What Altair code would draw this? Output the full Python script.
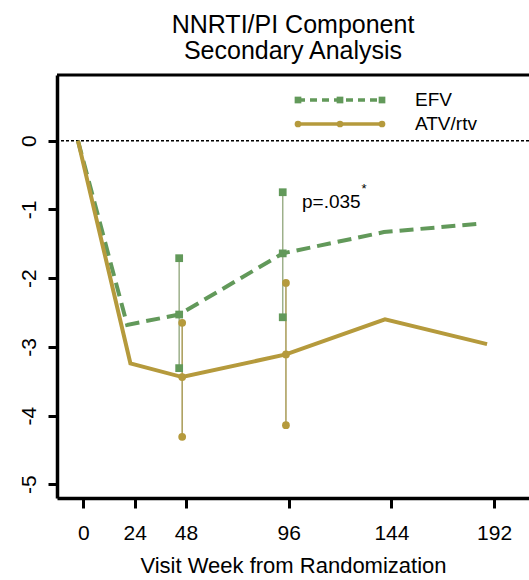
import altair as alt
import pandas as pd

# ---- data ----
series_names = ["EFV", "ATV/rtv"]

efv_week = [-2.5, 20.5, 44.8, 93.2, 140.5, 184.5]
efv_mean = [0.0, -2.68, -2.53, -1.64, -1.33, -1.21]
atv_week = [-2.5, 22.0, 46.2, 94.7, 141.0, 188.7]
atv_mean = [0.0, -3.24, -3.44, -3.11, -2.60, -2.96]

efv_ci_week = [44.8, 93.2]
efv_lo = [-3.31, -2.57]
efv_hi = [-1.71, -0.75]
atv_ci_week = [46.2, 94.7]
atv_lo = [-4.31, -4.14]
atv_hi = [-2.65, -2.07]

x_ticks = [0, 24, 48, 96, 144, 192]
y_ticks = [0, -1, -2, -3, -4, -5]

title_lines = ["NNRTI/PI Component", "Secondary Analysis"]
x_title = "Visit Week from Randomization"
p_text = "p=.035"

FONT = "Liberation Sans"
GREEN = "#62995a"
GOLD = "#b59a3c"
ERR_GREEN = "#9db08a"
ERR_GOLD = "#a89a55"

W, H = 472, 423

x_scale = alt.Scale(domain=[-12.3, 208.3], nice=False, zero=False)
y_scale = alt.Scale(domain=[-5.2, 0.956], nice=False, zero=False)

x_axis = alt.Axis(values=x_ticks, title=x_title, grid=False, tickSize=10, tickWidth=3,
                  domainWidth=3.5, domainColor="black", tickColor="black",
                  labelFont=FONT, labelFontSize=21, labelColor="black", labelPadding=14,
                  titleFont=FONT, titleFontSize=22, titleFontWeight="normal",
                  titleColor="black", titlePadding=12, labelFlush=False)
y_axis = alt.Axis(values=y_ticks, title=None, grid=False, tickSize=9, tickWidth=3,
                  domainWidth=3.5, domainColor="black", tickColor="black",
                  labelFont=FONT, labelFontSize=21, labelColor="black", labelPadding=13,
                  labelAngle=270, labelAlign="center", labelBaseline="alphabetic",
                  labelExpr="'' + datum.value", labelFlush=False)


def X(field="week"):
    return alt.X(f"{field}:Q", scale=x_scale, axis=x_axis)


def Y(field="value"):
    return alt.Y(f"{field}:Q", scale=y_scale, axis=y_axis)


efv_df = pd.DataFrame({"week": efv_week, "value": efv_mean})
atv_df = pd.DataFrame({"week": atv_week, "value": atv_mean})
efv_ci = pd.DataFrame({"week": efv_ci_week, "value": efv_lo, "hi": efv_hi})
atv_ci = pd.DataFrame({"week": atv_ci_week, "value": atv_lo, "hi": atv_hi})
efv_mid = efv_df[efv_df["week"].isin(efv_ci_week)]
atv_mid = atv_df[atv_df["week"].isin(atv_ci_week)]

zero = alt.Chart(pd.DataFrame({"week": [0], "value": [0]})).mark_rule(
    color="black", strokeDash=[3, 2], strokeWidth=1.5
).encode(y=Y())

efv_err = alt.Chart(efv_ci).mark_rule(color=ERR_GREEN, strokeWidth=1.5).encode(
    x=X(), y=Y(), y2="hi:Q")
atv_err = alt.Chart(atv_ci).mark_rule(color=ERR_GOLD, strokeWidth=1.5).encode(
    x=X(), y=Y(), y2="hi:Q")

efv_line = alt.Chart(efv_df).mark_line(color=GREEN, strokeWidth=4, strokeDash=[14, 7]).encode(
    x=X(), y=Y())
atv_line = alt.Chart(atv_df).mark_line(color=GOLD, strokeWidth=4).encode(x=X(), y=Y())

sq = dict(shape="square", filled=True, size=60, opacity=1)
ci_ = dict(shape="circle", filled=True, size=60, opacity=1)

efv_pts = alt.layer(
    alt.Chart(efv_ci).mark_point(color=GREEN, **sq).encode(x=X(), y=Y()),
    alt.Chart(efv_ci).mark_point(color=GREEN, **sq).encode(x=X(), y=Y("hi")),
    alt.Chart(efv_mid).mark_point(color=GREEN, **sq).encode(x=X(), y=Y()),
)
atv_pts = alt.layer(
    alt.Chart(atv_ci).mark_point(color=GOLD, **ci_).encode(x=X(), y=Y()),
    alt.Chart(atv_ci).mark_point(color=GOLD, **ci_).encode(x=X(), y=Y("hi")),
    alt.Chart(atv_mid).mark_point(color=GOLD, **ci_).encode(x=X(), y=Y()),
)

one = pd.DataFrame({"k": [0]})
top_border = alt.Chart(one).mark_rule(color="black", strokeWidth=3).encode(
    x=alt.value(0), x2=alt.value(W), y=alt.value(0))

# manual legend
leg_x0, leg_x1, leg_xm = 241, 325, 283
leg_y = [25, 49]
leg = alt.layer(
    alt.Chart(one).mark_rule(color=GREEN, strokeWidth=3.5, strokeDash=[7, 5]).encode(
        x=alt.value(leg_x0), x2=alt.value(leg_x1), y=alt.value(leg_y[0])),
    alt.Chart(one).mark_rule(color=GOLD, strokeWidth=3.5).encode(
        x=alt.value(leg_x0), x2=alt.value(leg_x1), y=alt.value(leg_y[1])),
    *[alt.Chart(one).mark_point(color=GREEN, shape="square", filled=True, size=45, opacity=1).encode(
        x=alt.value(px), y=alt.value(leg_y[0])) for px in (leg_x0, leg_xm, leg_x1)],
    *[alt.Chart(one).mark_point(color=GOLD, shape="circle", filled=True, size=45, opacity=1).encode(
        x=alt.value(px), y=alt.value(leg_y[1])) for px in (leg_x0, leg_xm, leg_x1)],
    alt.Chart(pd.DataFrame({"t": [series_names[0]]})).mark_text(
        font=FONT, fontSize=19, align="left", baseline="middle", color="black").encode(
        x=alt.value(358), y=alt.value(leg_y[0]), text="t:N"),
    alt.Chart(pd.DataFrame({"t": [series_names[1]]})).mark_text(
        font=FONT, fontSize=19, align="left", baseline="middle", color="black").encode(
        x=alt.value(358), y=alt.value(leg_y[1]), text="t:N"),
)

ptxt = alt.layer(
    alt.Chart(pd.DataFrame({"t": [p_text]})).mark_text(
        font=FONT, fontSize=19, align="left", baseline="alphabetic", color="black").encode(
        x=alt.value(245), y=alt.value(133), text="t:N"),
    alt.Chart(pd.DataFrame({"t": ["*"]})).mark_text(
        font=FONT, fontSize=13, align="center", baseline="middle", color="black").encode(
        x=alt.value(307), y=alt.value(114), text="t:N"),
)

chart = alt.layer(
    zero, efv_err, atv_err, efv_line, atv_line, efv_pts, atv_pts, top_border, leg, ptxt
).properties(
    width=W, height=H,
    title=alt.TitleParams(text=title_lines, font=FONT, fontSize=25, fontWeight="normal",
                          color="black", anchor="middle", lineHeight=26, offset=10),
    autosize=alt.AutoSizeParams(type="none"),
    padding={"left": 57, "top": 75, "right": 0, "bottom": 82},
).configure_view(stroke=None).configure(background="white")

chart.save("out.html", embed_options={"renderer": "svg", "actions": False})
